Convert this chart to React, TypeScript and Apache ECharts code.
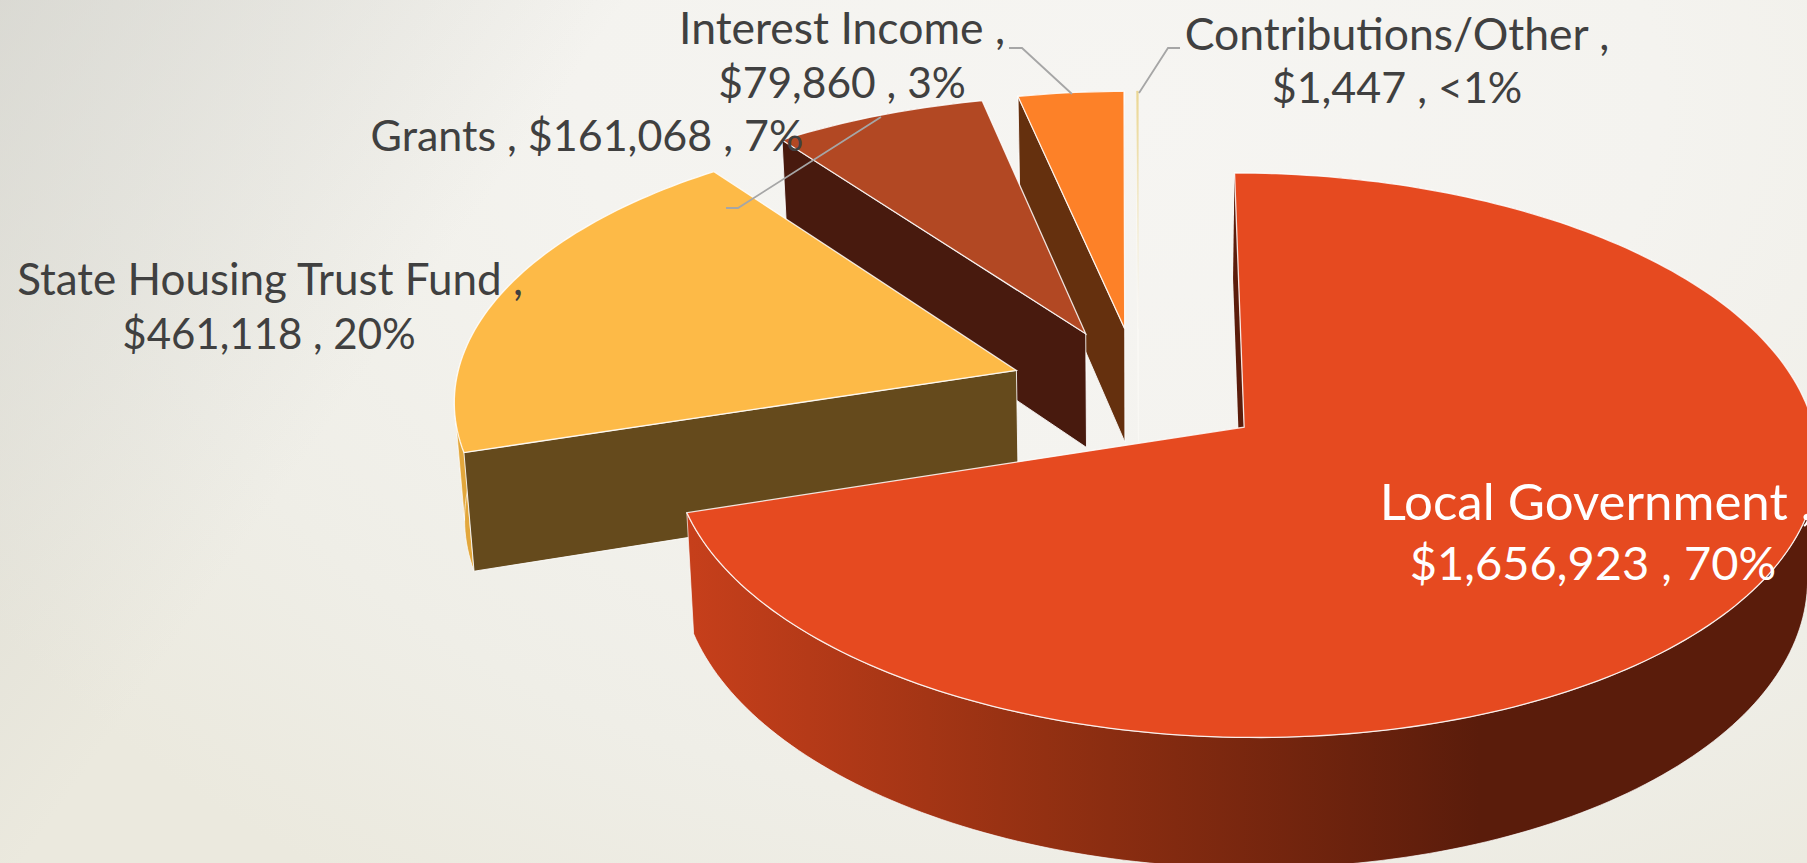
import React, { useEffect, useRef } from "react";
import * as echarts from "echarts";

const categories = ["Local Government", "State Housing Trust Fund", "Grants", "Interest Income", "Contributions/Other"];
const amounts = [1656923, 461118, 161068, 79860, 1447];
const amountLabels = ["$1,656,923", "$461,118", "$161,068", "$79,860", "$1,447"];
const percentLabels = ["70%", "20%", "7%", "3%", "<1%"];
const topColors = ["#E64A20", "#FDBA47", "#B24823", "#FD8128", "#F3DC9A"];
const wallColors = ["#5A1C0B", "#654A1C", "#481A0E", "#65300E", "#F4F2EC"];
const rimColors = ["", "#E2A73C", "#7A2F15", "#B05A1C", "#F4F2EC"];

const W = 1807;
const H = 863;

// projection of the pie's ground plane
const CX = 1138.6, CY = 389.5, AX = 562, AZ = 272, K = -0.0984, EXPLODE = 0.23, DEPTH = 116, SHRINK = 0.985;

const LABELS = [
  { x: 1596, x2: 1593, y: 531, size: 51, size2: 47, lh: 61, color: "#FFFFFF", oneLine: false },
  { x: 270, x2: 269, y: 305, size: 44, size2: 42, lh: 55, color: "#404040", oneLine: false },
  { x: 587, x2: 587, y: 134, size: 43, size2: 43, lh: 0, color: "#404040", oneLine: true },
  { x: 842, x2: 842, y: 54, size: 44.5, size2: 42.5, lh: 55, color: "#404040", oneLine: false },
  { x: 1397, x2: 1397, y: 59, size: 44.5, size2: 43, lh: 54, color: "#404040", oneLine: false },
];
const LEADERS = [
  [[1009, 48], [1022, 48], [1072, 94]],
  [[1180, 48], [1168, 48], [1139, 93]],
  [[726, 208], [738, 208], [881, 117]],
];

const project = (X: number, Z: number, lower: boolean) => {
  const w = 1 + K * Z;
  let x = CX + (AX * X) / w;
  let y = CY + (AZ * Z) / w;
  if (lower) {
    x = CX + (x - CX) * SHRINK;
    y += DEPTH / w;
  }
  return [x, y];
};

const total = amounts.reduce((a, b) => a + b, 0);
const starts: number[] = [];
amounts.reduce((acc, v, i) => {
  starts[i] = acc;
  return acc + (v / total) * Math.PI * 2;
}, 0);

const labelText = (x: number, y: number, text: string, size: number, color: string) => ({
  type: "text",
  z2: 100,
  x,
  y,
  style: { text, fill: color, font: `${size}px Lato`, align: "center", verticalAlign: "middle" },
});

// split the rim where the arc turns back in x, so a fold does not cancel its own fill
const rimRuns = (top: number[][], low: number[][]) => {
  const runs: number[][][] = [];
  let from = 0;
  for (let s = 1; s < top.length - 1; s++) {
    const d1 = top[s][0] - top[s - 1][0];
    const d2 = top[s + 1][0] - top[s][0];
    if (d1 * d2 < 0) {
      runs.push([...top.slice(from, s + 1), ...low.slice(from, s + 1).reverse()]);
      from = s;
    }
  }
  runs.push([...top.slice(from), ...low.slice(from).reverse()]);
  return runs;
};

const renderItem = (params: any, api: any) => {
  const i = params.dataIndex;
  const a0 = starts[i];
  const a1 = a0 + (api.value(0) / total) * Math.PI * 2;
  const mid = (a0 + a1) / 2;
  const ox = EXPLODE * Math.sin(mid);
  const oz = -EXPLODE * Math.cos(mid);
  const steps = Math.max(2, Math.ceil((a1 - a0) / 0.02));
  const arc = (lower: boolean) => {
    const pts: number[][] = [];
    for (let s = 0; s <= steps; s++) {
      const a = a0 + ((a1 - a0) * s) / steps;
      pts.push(project(ox + Math.sin(a), oz - Math.cos(a), lower));
    }
    return pts;
  };
  const topArc = arc(false);
  const lowArc = arc(true);
  const apex = project(ox, oz, false);
  const apexLow = project(ox, oz, true);
  const stroke = "rgba(255,255,255,0.85)";
  const thin = i === 4;
  const z = (5 - i) * 10;
  const rimFill =
    i === 0
      ? new echarts.graphic.LinearGradient(690, 0, 1480, 0, [
          { offset: 0, color: "#C63F1B" },
          { offset: 0.45, color: "#933012" },
          { offset: 1, color: "#5A1C0B" },
        ], true)
      : rimColors[i];
  const fade = new echarts.graphic.LinearGradient(0, 93, 0, 300, [
    { offset: 0, color: "#EBD794" },
    { offset: 1, color: "#F6F4EE" },
  ], true);
  const children: any[] = [
    ...rimRuns(topArc, lowArc).map((points) => ({
      type: "polygon",
      z2: z,
      shape: { points },
      style: { fill: rimFill, stroke: thin ? "none" : stroke, lineWidth: 0.8 },
    })),
    {
      type: "polygon",
      z2: z + 1,
      shape: { points: [apex, topArc[0], lowArc[0], apexLow] },
      style: { fill: wallColors[i], stroke: thin ? "#FAF9F5" : i === 0 ? "none" : stroke, lineWidth: 1 },
    },
    {
      type: "polygon",
      z2: z + 2,
      shape: { points: [apex, ...topArc] },
      style: { fill: thin ? fade : topColors[i], stroke: thin ? fade : stroke, lineWidth: thin ? 0.4 : 1.3 },
    },
  ];
  const lab = LABELS[i];
  if (lab.oneLine) {
    children.push(labelText(lab.x, lab.y, `${categories[i]} , ${amountLabels[i]} , ${percentLabels[i]}`, lab.size, lab.color));
  } else {
    children.push(labelText(lab.x, lab.y - lab.lh / 2, `${categories[i]} ,`, lab.size, lab.color));
    children.push(labelText(lab.x2, lab.y + lab.lh / 2, `${amountLabels[i]} , ${percentLabels[i]}`, lab.size2, lab.color));
  }
  return { type: "group", children };
};

export default function App() {
  const ref = useRef<HTMLDivElement>(null);
  useEffect(() => {
    document.body.style.margin = "0";
    const chart = echarts.init(ref.current!, undefined, { renderer: "svg" });
    chart.setOption({
      animation: false,
      tooltip: { show: false },
      graphic: LEADERS.map((pts) => ({
        type: "polyline",
        z: 50,
        shape: { points: pts },
        style: { stroke: "#A6A6A6", lineWidth: 1.8, fill: "none" },
      })),
      series: [
        {
          type: "custom",
          coordinateSystem: "none",
          silent: true,
          clip: false,
          renderItem,
          data: amounts,
        },
      ],
    });
    return () => chart.dispose();
  }, []);
  return (
    <div
      ref={ref}
      style={{
        width: W,
        height: H,
        overflow: "hidden",
        background:
          "linear-gradient(125deg, rgba(205,205,200,0.6) 0%, rgba(205,205,200,0) 26%), radial-gradient(ellipse 1350px 950px at 62% 12%, #F6F5F2 0%, #F4F3EF 40%, #EFEEE7 75%, #EBE9DE 100%)",
      }}
    />
  );
}
